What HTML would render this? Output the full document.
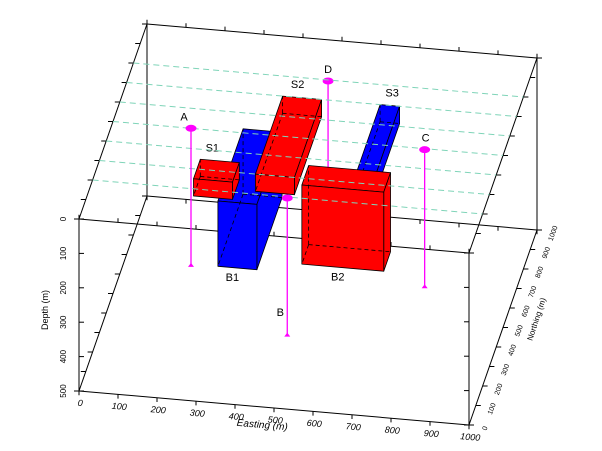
<!DOCTYPE html>
<html><head><meta charset="utf-8"><style>
body{margin:0;background:#fff}
svg{display:block;font-family:"Liberation Sans",sans-serif}
</style></head><body>
<svg id="c" width="602" height="451" viewBox="0 0 602 451"></svg>
<script>
const boxNames=['B1','B2','S1','S2','S3'];
const boxE0=[330,525,250,400,650];
const boxE1=[430,735,350,500,700];
const boxN0=[150,266,250,300,350];
const boxN1=[520,366,350,700,700];
const boxD0=[0,0,0,0,0];
const boxD1=[190,230,50,50,50];
const boxColors=['#0000ff','#ff0000','#ff0000','#ff0000','#0000ff'];
const wellNames=['A','B','C','D'];
const wellE=[200,500,800,500];
const wellN=[500,195,495,795];
const wellDepth=[400,400,400,300];
const eastTicks=[0,100,200,300,400,500,600,700,800,900,1000];
const northTicks=[0,100,200,300,400,500,600,700,800,900,1000];
const depthTicks=[0,100,200,300,400,500];
const gridN=[200,300,400,500,600,700,800];

const NS='http://www.w3.org/2000/svg';
const svg=document.getElementById('c');
function P(e,n,d){return [79+0.39*e+0.068*n, 219+0.034*e-0.195*n+0.344*d];}
function mk(tag,attrs,parent){const el=document.createElementNS(NS,tag);for(const k in attrs)el.setAttribute(k,attrs[k]);(parent||svg).appendChild(el);return el;}
function line(a,b,st,dash){return mk('line',{x1:a[0],y1:a[1],x2:b[0],y2:b[1],stroke:st||'#000','stroke-width':1,'stroke-dasharray':dash||'none'});}
function txt(s,x,y,size,rot,anchor){const t=mk('text',{x:x,y:y,'font-size':size,'text-anchor':anchor||'middle',transform:rot?`rotate(${rot} ${x} ${y})`:''});t.textContent=s;return t;}

// frame
const frame=[[[0,0,0],[1000,0,0]],[[0,1000,0],[1000,1000,0]],[[0,0,0],[0,1000,0]],[[1000,0,0],[1000,1000,0]],
[[0,0,500],[1000,0,500]],[[0,1000,500],[1000,1000,500]],[[0,0,500],[0,1000,500]],[[1000,0,500],[1000,1000,500]],
[[0,0,0],[0,0,500]],[[1000,0,0],[1000,0,500]],[[0,1000,0],[0,1000,500]],[[1000,1000,0],[1000,1000,500]]];
for(const f of frame){const l=line(P(...f[0]),P(...f[1]));

}
// ticks
for(const e of eastTicks){
 [[0,500,7],[0,0,-7],[1000,0,7],[1000,500,-7]].forEach(([n,d,len])=>{const a=P(e,n,d);const l=line(a,[a[0],a[1]+(n===1000?-len:len)*0.6]);
 
 });
 const a=P(e,0,500);
 const t=txt(String(e),a[0]+1,a[1]+15,9,5);
 t.setAttribute('font-style','italic');
 
 
}
for(const n of northTicks){
 [[0,0],[1000,0],[1000,500],[0,500]].forEach(([e,d])=>{const a=P(e,n,d);const s=e===0?-5:5;const l=line(a,[a[0]+s,a[1]]);
 
 });
 const a=P(1000,n,500);
 const t=txt(String(n),a[0]+18,a[1]+4,7,-70);
 
 
}
for(const d of depthTicks){
 [[0,0],[1000,0]].forEach(([e,n])=>{const a=P(e,n,d);const l=line(a,[a[0]+(e===0?5:-5),a[1]]);
 
 });
 const a=P(0,0,d);
 const t=txt(String(d),a[0]-13,a[1],8,-90);
 
 
}
let t=txt('Easting (m)',262,428,10,5);t.setAttribute('font-style','italic');


t=txt('Depth (m)',48,310,9,-90);


t=txt('Northing (m)',539,320,8,-72);



// well D (behind B2)
function drawWell(i){
 const top=P(wellE[i],wellN[i],0),bot=P(wellE[i],wellN[i],wellDepth[i]);
 const g=mk('g',{});
 
 
 mk('line',{x1:top[0],y1:top[1],x2:bot[0],y2:bot[1],stroke:'#ff00ff','stroke-width':1.3},g);
 mk('polygon',{points:`${bot[0]-3},${bot[1]+1} ${bot[0]+3},${bot[1]+1} ${bot[0]},${bot[1]-3}`,fill:'#ff00ff'},g);
 mk('ellipse',{cx:top[0],cy:top[1],rx:5.5,ry:3.5,fill:'#ff00ff'},g);
 const lt=txt(wellNames[i],top[0]-(i===1?7:(i===0?7:(i===2?-1:0))),i===1?bot[1]-20:top[1]-8,11,0);
 if(i===1){lt.setAttribute('x',top[0]-7);lt.setAttribute('y',316);}
 
 
}
drawWell(3);

function drawBox(i){
 const e0=boxE0[i],e1=boxE1[i],n0=boxN0[i],n1=boxN1[i],d0=boxD0[i],d1=boxD1[i],c=boxColors[i];
 const g=mk('g',{});
 
 
 const poly=pts=>mk('polygon',{points:pts.map(p=>P(...p).join(',')).join(' '),fill:c,stroke:'#000','stroke-width':0.8,'stroke-linejoin':'round'},g);
 poly([[e0,n1,d0],[e1,n1,d0],[e1,n0,d0],[e0,n0,d0]]);
 poly([[e1,n0,d0],[e1,n1,d0],[e1,n1,d1],[e1,n0,d1]]);
 poly([[e0,n0,d0],[e1,n0,d0],[e1,n0,d1],[e0,n0,d1]]);
 const h=[e0,n1,d1];
 [[e1,n1,d1],[e0,n0,d1],[e0,n1,d0]].forEach(q=>{const a=P(...h),b=P(...q);mk('line',{x1:a[0],y1:a[1],x2:b[0],y2:b[1],stroke:'#000','stroke-width':0.8,'stroke-dasharray':'4,3'},g);});
 const lab=i<2?P((e0+e1)/2,n0,d1):P(e0,n1,d0);
 const lt=txt(boxNames[i],i<2?lab[0]-5:lab[0]+(i===3?15:12),i<2?lab[1]+13:lab[1]-8,11,0);
 
 
}
// draw order: back to front
[4,1,0,3,2].forEach(drawBox);
// grid dashed lines on depth 0 plane
for(const n of gridN){const l=line(P(0,n,0),P(1000,n,0),'#7fd4b8','6,4');
 
 }
[0,1,2].forEach(drawWell);
</script>
</body></html>
